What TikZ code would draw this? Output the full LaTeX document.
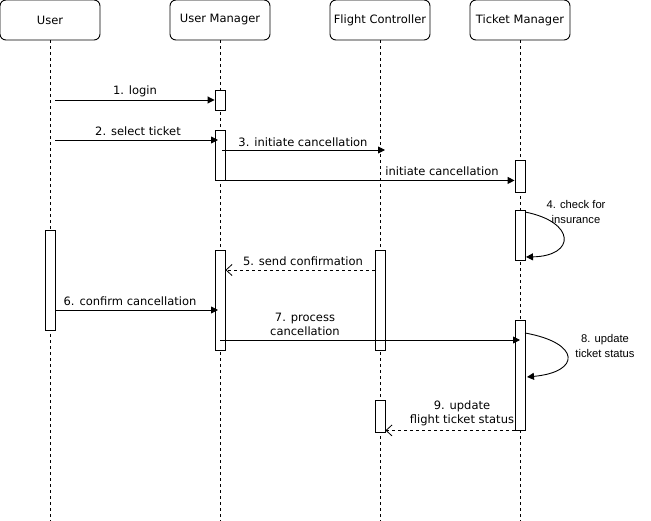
\documentclass[tikz,border=0pt]{standalone}
\usepackage{fontspec}
\setmainfont{DejaVu Sans}
\newfontfamily\notefont{Liberation Sans}
\usetikzlibrary{arrows.meta}

\begin{document}
\begin{tikzpicture}[x=1pt,y=-1pt,
  actor/.style={draw, rounded corners=6pt, minimum width=100pt, minimum height=40pt,
    inner sep=0pt, line width=0.9pt, font=\fontsize{11.5}{13}\selectfont},
  lifeline/.style={line width=0.8pt, dash pattern=on 3pt off 3pt},
  act/.style={draw, fill=white, minimum width=10pt, inner sep=0pt, line width=0.9pt},
  msg/.style={line width=0.9pt, -{Triangle[length=7pt,width=7pt]}},
  reply/.style={line width=0.8pt, dash pattern=on 3pt off 3pt,
    -{Straight Barb[length=6pt,width=11pt,line width=0.8pt]}},
  lbl/.style={inner sep=0pt, font=\fontsize{11.5}{14}\selectfont, align=center},
  note/.style={inner sep=0pt, font=\notefont\fontsize{11.2}{14.5}\selectfont, align=center}
]
\useasboundingbox (0,0) rectangle (651,521);

% participants
\node[actor] (user) at (50,20)  {User};
\node[actor] (um)   at (220,20) {User Manager};
\node[actor] (fc)   at (380,20) {Flight Controller};
\node[actor] (tm)   at (520,20) {Ticket Manager};

% lifelines
\coordinate (userEnd) at (50,521);
\coordinate (umEnd)   at (220,521);
\coordinate (fcEnd)   at (380,521);
\coordinate (tmEnd)   at (520,521);
\draw[lifeline] (user.south) -- (userEnd);
\draw[lifeline] (um.south)   -- (umEnd);
\draw[lifeline] (fc.south)   -- (fcEnd);
\draw[lifeline] (tm.south)   -- (tmEnd);

% activation bars
\node[act, minimum height=20pt]  (a1) at (220,100) {};
\node[act, minimum height=50pt]  (a2) at (220,155) {};
\node[act, minimum height=100pt] (a3) at (220,300) {};
\node[act, minimum height=32pt]  (t1) at (520,176) {};
\node[act, minimum height=50pt]  (t2) at (520,235) {};
\node[act, minimum height=110pt] (t3) at (520,375) {};
\node[act, minimum height=100pt] (f1) at (380,300) {};
\node[act, minimum height=32pt]  (f2) at (380,416) {};
\node[act, minimum height=100pt] (u1) at (50,280) {};

% message end points
\coordinate (m1s) at (55,100);
\coordinate (m2s) at (55,140);
\coordinate (m2e) at (218,140);
\coordinate (m3s) at (222,150);
\coordinate (m3e) at (385,150);
\coordinate (m6e) at (218,310);
\coordinate (m7s) at (220,340);
\coordinate (m7e) at (520,340);
\coordinate (s4s) at (525,212);
\coordinate (s4e) at (526,257);
\coordinate (s8s) at (525,333);
\coordinate (s8e) at (527,377);

% messages
\draw[msg] (m1s) -- (a1.west);
\draw[msg] (m2s) -- (m2e);
\draw[msg] (m3s) -- (m3e);
\draw[msg] (a2.south east) -- (t1.west |- a2.south);
\draw[msg] (s4s) .. controls (576,222) and (576,256) .. (s4e);
\draw[reply] (f1.west |- 0,270) -- (a3.east |- 0,270);
\draw[msg] (u1.east |- m6e) -- (m6e);
\draw[msg] (m7s) -- (m7e);
\draw[msg] (s8s) .. controls (581,343) and (581,372) .. (s8e);
\draw[reply] (t3.south west) -- (f2.east |- t3.south);

% message labels
\node[lbl] (l1) at (135,91)  {1. login};
\node[lbl] (l2) at (138,131) {2. select ticket};
\node[lbl] (l3) at (303,142) {3. initiate cancellation};
\node[lbl] (l3b) at (442,171) {initiate cancellation};
\node[note] (l4) at (576,212) {4. check for\\insurance};
\node[lbl] (l5) at (303,261) {5. send confirmation};
\node[lbl] (l6) at (130,301) {6. confirm cancellation};
\node[lbl] (l7) at (305,324) {7. process\\cancellation};
\node[note] (l8) at (605,346) {8. update\\ticket status};
\node[lbl] (l9) at (462,413) {9. update\\flight ticket status};
\end{tikzpicture}
\end{document}
